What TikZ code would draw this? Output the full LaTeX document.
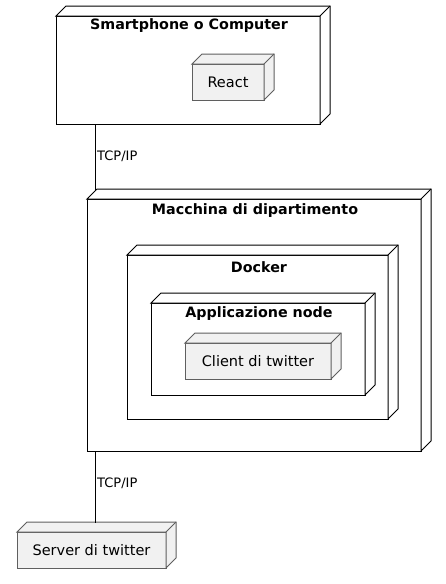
\documentclass[tikz,border=0pt]{standalone}
\usepackage{fontspec}
\setmainfont{DejaVu Sans}
\usetikzlibrary{calc}
\definecolor{smallfill}{HTML}{F1F1F1}
\definecolor{smalldraw}{HTML}{5F5F5F}
\tikzset{
  bigbox/.style={draw=black, fill=white, line width=1pt, inner sep=0pt, outer sep=0pt, rectangle},
  smallbox/.style={draw=smalldraw, fill=smallfill, line width=1pt, inner sep=0pt, outer sep=0pt, rectangle, font=\fontsize{14.5pt}{16pt}\selectfont},
  titletext/.style={font=\bfseries\fontsize{14.3pt}{16pt}\selectfont, inner sep=0pt},
  linklabel/.style={font=\fontsize{13pt}{15pt}\selectfont, inner sep=0pt, anchor=west},
  link/.style={draw=black, line width=1pt}
}
% 3D faces of a node: #1 node name, #2 style
\newcommand{\boxfaces}[2]{%
  \filldraw[#2] (#1.north west) -- ++(10pt,10pt) -- ($(#1.north east)+(10pt,10pt)$)
    -- ($(#1.south east)+(10pt,10pt)$) -- (#1.south east) -- (#1.north east) -- cycle;
  \draw[#2] (#1.north east) -- ++(10pt,10pt);
}
\begin{document}
\begin{tikzpicture}[x=1pt,y=-1pt]
\useasboundingbox (0,0) rectangle (446,584);
% Smartphone o Computer
\node[bigbox, minimum width=264pt, minimum height=108pt] (smart) at (188,70) {};
\boxfaces{smart}{draw=black, fill=white, line width=1pt}
\node[titletext] (smarttitle) at (189,26) {Smartphone o Computer};
\node[smallbox, minimum width=72pt, minimum height=36pt] (react) at (228,82) {React};
\boxfaces{react}{draw=smalldraw, fill=smallfill, line width=1pt}
% Macchina di dipartimento
\node[bigbox, minimum width=334pt, minimum height=252pt] (macchina) at (254,325) {};
\boxfaces{macchina}{draw=black, fill=white, line width=1pt}
\node[titletext] (macchinatitle) at (255,211) {Macchina di dipartimento};
% Docker
\node[bigbox, minimum width=261pt, minimum height=164pt] (docker) at (257.5,337) {};
\boxfaces{docker}{draw=black, fill=white, line width=1pt}
\node[titletext] (dockertitle) at (259,267) {Docker};
% Applicazione node
\node[bigbox, minimum width=214pt, minimum height=92pt] (app) at (258,349) {};
\boxfaces{app}{draw=black, fill=white, line width=1pt}
\node[titletext] (apptitle) at (259,314) {Applicazione node};
% Client di twitter
\node[smallbox, minimum width=146pt, minimum height=36pt] (client) at (258,361) {Client di twitter};
\boxfaces{client}{draw=smalldraw, fill=smallfill, line width=1pt}
% Server di twitter
\node[smallbox, minimum width=149pt, minimum height=36pt] (server) at (91.5,550) {Server di twitter};
\boxfaces{server}{draw=smalldraw, fill=smallfill, line width=1pt}
% connectors
\coordinate (mtop) at (95,190);
\coordinate (stop) at (95,523);
\draw[link] (smart.south -| mtop) -- (mtop);
\draw[link] (macchina.south -| stop) -- (stop);
\node[linklabel] (l1) at (97,156) {TCP/IP};
\node[linklabel] (l2) at (97,483) {TCP/IP};
\end{tikzpicture}
\end{document}
